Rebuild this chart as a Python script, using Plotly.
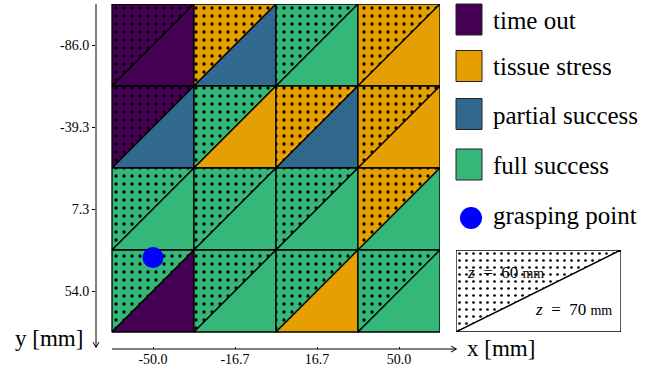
import plotly.graph_objects as go

# ---------------- data ----------------
x_centers = [-50.0, -16.667, 16.667, 50.0]
y_centers = [-86.0, -39.333, 7.333, 54.0]
x_ticktext = ["-50.0", "-16.7", "16.7", "50.0"]
y_ticktext = ["-86.0", "-39.3", "7.3", "54.0"]

outcome_names = ["time out", "tissue stress", "partial success", "full success"]
outcome_colors = ["#440154", "#E69F00", "#31688E", "#35B779"]

# rows follow y_centers, columns follow x_centers
z60_outcome = [
    ["time out", "tissue stress", "full success", "tissue stress"],
    ["time out", "full success", "tissue stress", "tissue stress"],
    ["full success", "full success", "full success", "tissue stress"],
    ["full success", "full success", "full success", "full success"],
]
z70_outcome = [
    ["time out", "partial success", "full success", "tissue stress"],
    ["partial success", "tissue stress", "partial success", "tissue stress"],
    ["full success", "full success", "full success", "full success"],
    ["time out", "full success", "tissue stress", "full success"],
]

grasp_x = [-50.0]
grasp_y = [35.0]
grasp_label = "grasping point"
z_labels = ["z = 60 mm", "z = 70 mm"]

# ---------------- figure ----------------
W, H = 668, 366
ML, MR, MT, MB = 96, 47, 4, 17
PW, PH = W - ML - MR, H - MT - MB
FONT = "Liberation Serif, Times New Roman, serif"


def px(x):
    return (x - ML) / PW


def py(y):
    return (H - MB - y) / PH


color_of = dict(zip(outcome_names, outcome_colors))
hx = (x_centers[1] - x_centers[0]) / 2
hy = (y_centers[1] - y_centers[0]) / 2

fig = go.Figure()

for r, cy in enumerate(y_centers):
    for c, cx in enumerate(x_centers):
        top, bot = cy - hy, cy + hy
        left, right = cx - hx, cx + hx
        col60 = color_of[z60_outcome[r][c]]
        col70 = color_of[z70_outcome[r][c]]
        # upper-left triangle: z = 60 mm (dotted)
        fig.add_trace(go.Scatter(
            x=[left, right, left, left], y=[top, top, bot, top],
            mode="lines", fill="toself", fillcolor=col60,
            fillpattern=dict(shape=".", size=8, solidity=0.13,
                             fgcolor="black", bgcolor=col60, fillmode="replace"),
            line=dict(color="black", width=1.3),
            showlegend=False, hoverinfo="skip"))
        # lower-right triangle: z = 70 mm
        fig.add_trace(go.Scatter(
            x=[right, right, left, right], y=[top, bot, bot, top],
            mode="lines", fill="toself", fillcolor=col70,
            line=dict(color="black", width=1.3),
            showlegend=False, hoverinfo="skip"))

fig.add_trace(go.Scatter(
    x=grasp_x, y=grasp_y, mode="markers",
    marker=dict(color="#0000FF", size=21, line=dict(width=0)),
    showlegend=False, hoverinfo="skip"))

# key box (z levels)
fig.add_trace(go.Scatter(
    x=[0, 1, 0, 0], y=[1, 1, 0, 1], xaxis="x2", yaxis="y2",
    mode="lines", fill="toself", fillcolor="white",
    fillpattern=dict(shape=".", size=7, solidity=0.12,
                     fgcolor="black", bgcolor="white", fillmode="replace"),
    line=dict(color="black", width=1.3), showlegend=False, hoverinfo="skip"))
fig.add_trace(go.Scatter(
    x=[1, 1, 0, 1], y=[1, 0, 0, 1], xaxis="x2", yaxis="y2",
    mode="lines", fill="toself", fillcolor="white",
    line=dict(color="black", width=1.3), showlegend=False, hoverinfo="skip"))

x_lo, x_hi = x_centers[0] - hx, x_centers[-1] + hx
y_lo, y_hi = y_centers[0] - hy, y_centers[-1] + hy
x_ext = (x_hi - x_lo) * 16 / 328
y_ext = (y_hi - y_lo) * 17 / 328

shapes = []
annotations = []

# y axis line with down arrow
shapes.append(dict(type="line", xref="paper", yref="paper",
                   x0=px(96), x1=px(96), y0=py(4), y1=py(347),
                   line=dict(color="black", width=1)))
shapes.append(dict(type="path", xref="paper", yref="paper",
                   path=f"M {px(93)} {py(342)} L {px(96)} {py(347.5)} L {px(99)} {py(342)}",
                   line=dict(color="black", width=1)))
# x axis line with right arrow
shapes.append(dict(type="line", xref="paper", yref="paper",
                   x0=px(112), x1=px(456), y0=py(349), y1=py(349),
                   line=dict(color="black", width=1)))
shapes.append(dict(type="path", xref="paper", yref="paper",
                   path=f"M {px(451)} {py(346)} L {px(456.5)} {py(349)} L {px(451)} {py(352)}",
                   line=dict(color="black", width=1)))

annotations.append(dict(text="y [mm]", xref="paper", yref="paper",
                        x=px(85), y=py(338), xanchor="right", yanchor="middle",
                        showarrow=False, font=dict(family=FONT, size=23, color="black")))
annotations.append(dict(text="x [mm]", xref="paper", yref="paper",
                        x=px(465), y=py(348), xanchor="left", yanchor="middle",
                        showarrow=False, font=dict(family=FONT, size=23, color="black")))

# legend (drawn manually)
sq_centers = [19.5, 66, 114, 164.5]
for name, col, cy in zip(outcome_names, outcome_colors, sq_centers):
    shapes.append(dict(type="rect", xref="paper", yref="paper",
                       x0=px(456), x1=px(482), y0=py(cy - 15.5), y1=py(cy + 15.5),
                       fillcolor=col, line=dict(color="#222222", width=1)))
    annotations.append(dict(text=name, xref="paper", yref="paper",
                            x=px(491), y=py(cy + 1), xanchor="left", yanchor="middle",
                            showarrow=False,
                            font=dict(family=FONT, size=25, color="black")))
shapes.append(dict(type="circle", xref="paper", yref="paper",
                   x0=px(460), x1=px(482), y0=py(207), y1=py(229),
                   fillcolor="#0000FF", line=dict(width=0)))
annotations.append(dict(text=grasp_label, xref="paper", yref="paper",
                        x=px(491), y=py(216), xanchor="left", yanchor="middle",
                        showarrow=False, font=dict(family=FONT, size=25, color="black")))

# z-level labels in key box
for lab, xx, yy, anc in [(z_labels[0], 465, 272, "left"), (z_labels[1], 614, 309, "right")]:
    zv, rest = lab.split(" = ")
    num, unit = rest.split(" ")
    annotations.append(dict(
        text=f"<i>{zv}</i>&nbsp;&nbsp;=&nbsp;&nbsp;{num}&nbsp;<span style='font-size:14px'>{unit}</span>",
        xref="paper", yref="paper", x=px(xx), y=py(yy), xanchor=anc, yanchor="middle",
        showarrow=False, font=dict(family=FONT, size=17, color="black")))

fig.update_layout(
    width=W, height=H,
    margin=dict(l=ML, r=MR, t=MT, b=MB, autoexpand=False),
    paper_bgcolor="white", plot_bgcolor="white",
    showlegend=False,
    font=dict(family=FONT, color="black"),
    xaxis=dict(domain=[0, 344 / PW], range=[x_lo - x_ext, x_hi],
               tickvals=x_centers, ticktext=x_ticktext, ticks="inside", ticklen=2,
               tickcolor="black", showgrid=False, zeroline=False, showline=False,
               tickfont=dict(family=FONT, size=14, color="black"), fixedrange=True),
    yaxis=dict(domain=[0, 1], range=[y_hi + y_ext, y_lo],
               tickvals=y_centers, ticktext=y_ticktext, ticks="outside", ticklen=3,
               tickcolor="black", showgrid=False, zeroline=False, showline=False,
               tickfont=dict(family=FONT, size=14, color="black"), fixedrange=True),
    xaxis2=dict(domain=[px(456), px(621)], range=[0, 1], visible=False, fixedrange=True),
    yaxis2=dict(domain=[py(332), py(250)], range=[0, 1], visible=False, fixedrange=True,
                anchor="x2"),
    shapes=shapes, annotations=annotations,
)
fig.data[-1].update(xaxis="x2", yaxis="y2")
fig.write_html("out.html", config={"displayModeBar": False},
               post_script="document.body.style.margin='0';document.body.style.overflow='hidden';")
